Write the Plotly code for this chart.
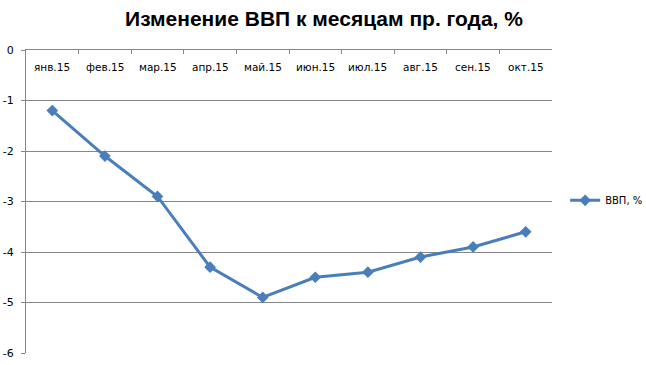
import plotly.graph_objects as go

categories = ["янв.15", "фев.15", "мар.15", "апр.15", "май.15", "июн.15", "июл.15", "авг.15", "сен.15", "окт.15"]
gdp_values = [-1.2, -2.1, -2.9, -4.3, -4.9, -4.5, -4.4, -4.1, -3.9, -3.6]
series_name = "ВВП, %"
title_text = "Изменение ВВП к месяцам пр. года, %"
y_ticks = [0, -1, -2, -3, -4, -5, -6]

W, H = 646, 365
L, R, T, B = 26, 94, 50, 12
plot_h = H - T - B

fig = go.Figure()
fig.add_trace(go.Scatter(
    x=categories, y=gdp_values, name=series_name, mode="lines+markers",
    line=dict(color="#4A7EBB", width=3),
    marker=dict(symbol="diamond", size=9, color="#4A7EBB"),
    showlegend=True,
))

for c in categories:
    fig.add_annotation(x=c, xref="x", y=1 - 17 / plot_h, yref="paper", text=c, showarrow=False,
                       xanchor="center", yanchor="middle",
                       font=dict(size=10.5, family="DejaVu Sans", color="black"))

axis_col = "#868686"
fig.update_layout(
    width=W, height=H,
    margin=dict(l=L, r=R, t=T, b=B, autoexpand=False),
    paper_bgcolor="white", plot_bgcolor="white",
    title=dict(text=title_text, x=324 / W, xanchor="center", y=1 - 19 / H, yanchor="middle",
               font=dict(family="Liberation Sans", size=21, color="black", weight="bold")),
    font=dict(family="DejaVu Sans", size=10, color="black"),
    xaxis=dict(
        type="category", side="top", range=[-0.5, len(categories) - 0.5],
        showline=True, linecolor=axis_col, linewidth=1,
        ticks="inside", ticklen=4, tickcolor=axis_col, tickson="boundaries",
        showticklabels=False, showgrid=False, zeroline=False, automargin=False,
    ),
    yaxis=dict(
        range=[-6, 0], tickvals=y_ticks, ticktext=[str(v) for v in y_ticks],
        showline=True, linecolor=axis_col, linewidth=1,
        ticks="outside", ticklen=4, tickcolor=axis_col, automargin=False,
        ticklabelstandoff=5,
        showgrid=True, gridcolor=axis_col, gridwidth=1, zeroline=False,
        tickfont=dict(size=11, family="DejaVu Sans"),
    ),
    legend=dict(x=1.025, xanchor="left", y=0.504, yanchor="middle",
                font=dict(size=10, family="DejaVu Sans"), bgcolor="rgba(0,0,0,0)",
                itemwidth=30),
)

fig.write_html("out.html")
